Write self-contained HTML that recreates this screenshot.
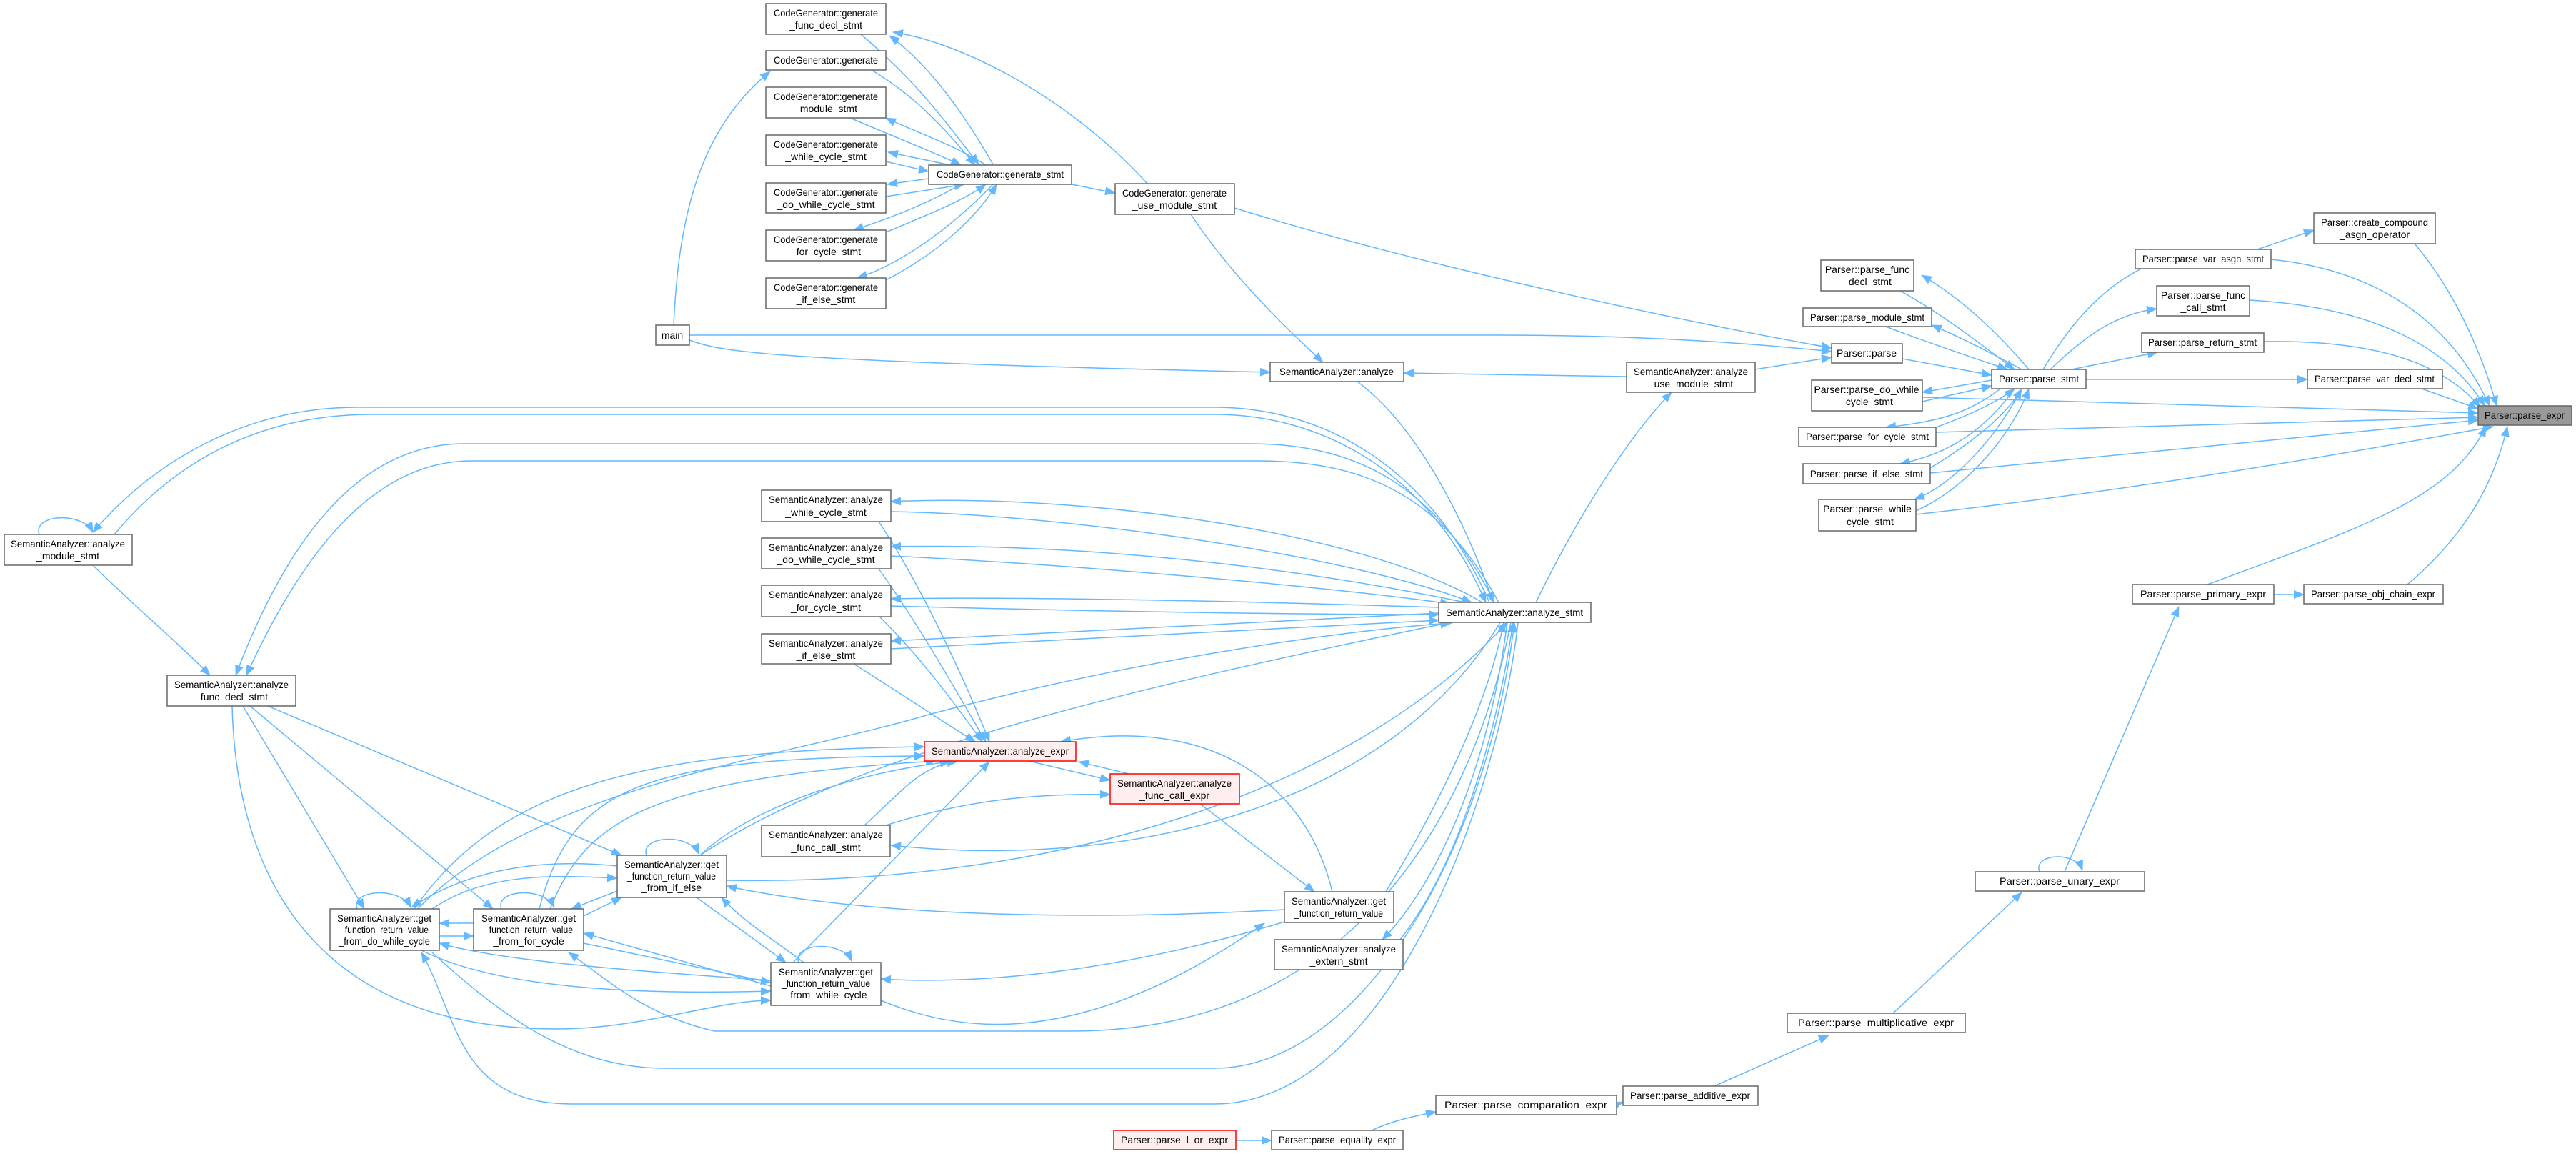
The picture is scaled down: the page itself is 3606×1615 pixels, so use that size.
<!DOCTYPE html>
<html><head><meta charset="utf-8"><style>
html,body{margin:0;padding:0;background:#fff}
svg{display:block}
text{font-family:"Liberation Sans",sans-serif;font-size:14px;fill:#000;text-anchor:middle}
.n{fill:#fff;stroke:#666;stroke-width:1.5}
.r{fill:#fee;stroke:#f00;stroke-width:1.5}
.g{fill:#999;stroke:#666;stroke-width:1.5}
path{fill:none;stroke:#63b8ff;stroke-width:1.5}
</style></head><body>
<svg width="3606" height="1615" viewBox="0 0 3606 1615" xmlns="http://www.w3.org/2000/svg">
<defs>
<marker id="a" markerUnits="userSpaceOnUse" markerWidth="16" markerHeight="12" refX="14" refY="6" orient="auto"><polygon points="0,0 15,6 0,12" fill="#63b8ff"/></marker>
</defs>
<g marker-end="url(#a)">
<path d="M1220 98 C1290 140 1330 190 1365 231"/>
<path d="M943 455 C950 300 980 180 1078 100"/>
<path d="M1205 48 C1290 120 1330 180 1370 230"/>
<path d="M1390 230 C1350 160 1300 90 1245 50"/>
<path d="M1606 257 C1500 140 1350 60 1250 45"/>
<path d="M1190 165 C1260 195 1300 210 1345 231"/>
<path d="M1380 231 C1330 200 1270 180 1240 165"/>
<path d="M1340 233 L1243 213"/>
<path d="M1240 226 L1300 240"/>
<path d="M1300 250 L1242 258"/>
<path d="M1240 275 L1350 258"/>
<path d="M1345 258 C1290 290 1230 310 1195 322"/>
<path d="M1240 325 C1300 300 1350 280 1380 258"/>
<path d="M1390 258 C1330 320 1260 370 1200 389"/>
<path d="M1240 392 C1320 350 1370 300 1395 258"/>
<path d="M1500 258 L1561 270"/>
<path d="M1667 300 C1720 380 1790 450 1852 507"/>
<path d="M1728 291 C1950 360 2300 440 2564 487"/>
<path d="M965 469 L2100 469 C2300 469 2450 480 2564 492"/>
<path d="M965 476 C1010 492 1060 505 1778 521"/>
<path d="M2277 527 L1965 522"/>
<path d="M2457 517 L2564 500"/>
<path d="M2663 502 L2788 525"/>
<path d="M2150 843 C2220 700 2290 600 2340 549"/>
<path d="M1900 534 C1990 600 2060 750 2090 843"/>
<path d="M2085 843 C2000 650 1850 570 1700 570 L500 570 C350 570 220 640 130 745"/>
<path d="M160 748 C250 640 370 580 520 580 L1700 580 C1850 580 2000 660 2080 843"/>
<path d="M2092 843 C2010 680 1900 621 1750 621 L650 621 C500 621 400 760 330 945"/>
<path d="M2098 843 C2020 700 1920 645 1760 645 L660 645 C520 645 420 780 345 945"/>
<path d="M130 791 C190 850 250 900 294 945"/>
<path d="M2075 843 C1900 740 1500 690 1247 702"/>
<path d="M1247 716 C1500 720 1900 780 2060 843"/>
<path d="M2060 845 C1800 790 1500 760 1247 765"/>
<path d="M1247 778 C1500 790 1850 820 2030 845"/>
<path d="M2014 850 C1700 840 1400 835 1247 838"/>
<path d="M1247 848 C1500 855 1800 860 2014 860"/>
<path d="M2014 858 L1247 897"/>
<path d="M1247 908 L2014 868"/>
<path d="M1230 730 C1290 820 1350 950 1385 1038"/>
<path d="M1230 796 C1290 880 1340 970 1380 1038"/>
<path d="M1228 860 C1290 920 1340 990 1375 1038"/>
<path d="M1195 929 C1260 970 1320 1010 1365 1038"/>
<path d="M2100 871 C1950 1120 1600 1220 1247 1183"/>
<path d="M980 1197 C1200 1050 1600 960 2030 871"/>
<path d="M1440 1065 L1554 1092"/>
<path d="M1580 1083 L1510 1066"/>
<path d="M1210 1155 C1260 1110 1290 1070 1340 1066"/>
<path d="M1240 1155 C1350 1120 1450 1110 1554 1112"/>
<path d="M1680 1125 L1840 1248"/>
<path d="M1865 1248 C1830 1100 1700 1000 1485 1038"/>
<path d="M1940 1248 C2000 1150 2080 1000 2105 871"/>
<path d="M1798 1273 C1500 1290 1200 1280 1017 1240"/>
<path d="M1798 1290 C1600 1350 1400 1380 1233 1370"/>
<path d="M2110 871 C2080 1100 2000 1250 1935 1315"/>
<path d="M1960 1315 C2050 1200 2100 1000 2118 871"/>
<path d="M1017 1232 C1500 1240 1900 1100 2110 871"/>
<path d="M605 1333 C700 1420 800 1495 930 1495 L1700 1495 C1900 1495 2080 1200 2120 871"/>
<path d="M2125 871 C2100 1100 1950 1545 1700 1545 L800 1545 C640 1545 640 1420 590 1333"/>
<path d="M2115 871 C2080 1050 1950 1443 1500 1443 L1000 1443 C900 1420 850 1370 796 1333"/>
<path d="M1233 1400 C1330 1440 1500 1480 1770 1292"/>
<path d="M375 988 L870 1197"/>
<path d="M350 988 L690 1272"/>
<path d="M340 988 L510 1272"/>
<path d="M325 988 C330 1200 420 1440 780 1440 C900 1440 1000 1400 1079 1400"/>
<path d="M663 1292 L615 1292"/>
<path d="M615 1310 L663 1310"/>
<path d="M864 1212 C750 1200 650 1220 576 1270"/>
<path d="M605 1272 C680 1220 780 1225 864 1229"/>
<path d="M864 1247 L800 1272"/>
<path d="M817 1282 L870 1256"/>
<path d="M975 1256 L1100 1347"/>
<path d="M1125 1347 C1090 1320 1040 1290 1010 1256"/>
<path d="M1079 1380 L817 1306"/>
<path d="M817 1320 L1079 1375"/>
<path d="M1079 1372 C900 1360 700 1345 615 1320"/>
<path d="M590 1330 C700 1385 900 1392 1079 1387"/>
<path d="M580 1272 C700 1100 900 1050 1294 1045"/>
<path d="M585 1272 C750 1100 1100 1060 1300 1000 C1600 920 1900 880 2032 872"/>
<path d="M755 1272 C800 1100 900 1060 1294 1058"/>
<path d="M770 1272 C820 1150 900 1090 1310 1065"/>
<path d="M980 1197 C1050 1130 1200 1080 1330 1066"/>
<path d="M1110 1347 L1385 1066"/>
<path d="M500 1272 C490 1245 560 1240 575 1270"/>
<path d="M702 1272 C692 1245 762 1240 776 1270"/>
<path d="M905 1197 C895 1170 965 1165 978 1195"/>
<path d="M1118 1347 C1108 1320 1178 1315 1192 1345"/>
<path d="M55 748 C45 720 115 715 130 745"/>
<path d="M2855 1220 C2845 1195 2905 1190 2915 1218"/>
<path d="M1730 1596 L1780 1596"/>
<path d="M1920 1582 C1950 1568 1980 1562 2010 1556"/>
<path d="M2263 1546 L2272 1542"/>
<path d="M2400 1520 L2560 1449"/>
<path d="M2650 1418 L2830 1249"/>
<path d="M2890 1220 L3050 849"/>
<path d="M3183 832 L3225 832"/>
<path d="M3090 818 C3300 740 3430 700 3480 597"/>
<path d="M3370 818 C3450 750 3490 680 3510 597"/>
<path d="M3380 341 C3430 400 3470 480 3495 568"/>
<path d="M3179 363 C3350 380 3440 470 3485 568"/>
<path d="M3149 420 C3330 430 3430 490 3478 568"/>
<path d="M3169 478 C3350 475 3430 520 3472 570"/>
<path d="M3390 544 L3469 572"/>
<path d="M2691 556 L3469 578"/>
<path d="M2710 605 L3469 584"/>
<path d="M2702 662 L3469 588"/>
<path d="M2682 720 C2950 690 3200 650 3490 597"/>
<path d="M3160 349 L3239 322"/>
<path d="M2860 517 C2900 450 2950 390 3030 362"/>
<path d="M2870 517 C2920 470 2960 440 3019 432"/>
<path d="M2900 517 L3020 493"/>
<path d="M2920 531 L3230 531"/>
<path d="M2660 407 C2720 440 2770 480 2820 517"/>
<path d="M2840 517 C2800 470 2750 420 2690 385"/>
<path d="M2640 457 C2700 480 2760 500 2810 517"/>
<path d="M2830 517 C2780 490 2740 470 2704 455"/>
<path d="M2788 532 L2691 549"/>
<path d="M2691 562 L2788 540"/>
<path d="M2800 544 C2760 575 2720 590 2640 598"/>
<path d="M2710 598 C2760 580 2800 560 2820 544"/>
<path d="M2820 544 C2780 600 2730 635 2660 649"/>
<path d="M2702 655 C2760 620 2810 580 2830 544"/>
<path d="M2830 544 C2790 620 2730 680 2680 699"/>
<path d="M2682 715 C2760 680 2820 600 2840 544"/>
</g>
<g>
<rect class="n" x="1072" y="5" width="168" height="43"/><text x="1156" y="23" textLength="146" lengthAdjust="spacingAndGlyphs">CodeGenerator::generate</text><text x="1156" y="40">_func_decl_stmt</text>
<rect class="n" x="1072" y="71" width="168" height="27"/><text x="1156" y="89" textLength="146" lengthAdjust="spacingAndGlyphs">CodeGenerator::generate</text>
<rect class="n" x="1072" y="122" width="168" height="43"/><text x="1156" y="140" textLength="146" lengthAdjust="spacingAndGlyphs">CodeGenerator::generate</text><text x="1156" y="157">_module_stmt</text>
<rect class="n" x="1072" y="189" width="168" height="43"/><text x="1156" y="207" textLength="146" lengthAdjust="spacingAndGlyphs">CodeGenerator::generate</text><text x="1156" y="224">_while_cycle_stmt</text>
<rect class="n" x="1072" y="256" width="168" height="42"/><text x="1156" y="274" textLength="146" lengthAdjust="spacingAndGlyphs">CodeGenerator::generate</text><text x="1156" y="291">_do_while_cycle_stmt</text>
<rect class="n" x="1072" y="322" width="168" height="43"/><text x="1156" y="340" textLength="146" lengthAdjust="spacingAndGlyphs">CodeGenerator::generate</text><text x="1156" y="357">_for_cycle_stmt</text>
<rect class="n" x="1072" y="389" width="168" height="43"/><text x="1156" y="407" textLength="146" lengthAdjust="spacingAndGlyphs">CodeGenerator::generate</text><text x="1156" y="424">_if_else_stmt</text>
<rect class="n" x="1300" y="231" width="200" height="27"/><text x="1400" y="249" textLength="178" lengthAdjust="spacingAndGlyphs">CodeGenerator::generate_stmt</text>
<rect class="n" x="1561" y="257" width="167" height="43"/><text x="1644" y="275" textLength="146" lengthAdjust="spacingAndGlyphs">CodeGenerator::generate</text><text x="1644" y="292">_use_module_stmt</text>
<rect class="n" x="918" y="455" width="47" height="28"/><text x="941" y="474">main</text>
<rect class="n" x="1778" y="507" width="187" height="27"/><text x="1871" y="525" textLength="160" lengthAdjust="spacingAndGlyphs">SemanticAnalyzer::analyze</text>
<rect class="n" x="2277" y="507" width="180" height="42"/><text x="2367" y="525" textLength="160" lengthAdjust="spacingAndGlyphs">SemanticAnalyzer::analyze</text><text x="2367" y="542">_use_module_stmt</text>
<rect class="n" x="2564" y="481" width="99" height="27"/><text x="2613" y="499">Parser::parse</text>
<rect class="n" x="2788" y="517" width="132" height="27"/><text x="2854" y="535" textLength="112" lengthAdjust="spacingAndGlyphs">Parser::parse_stmt</text>
<rect class="n" x="2549" y="364" width="130" height="43"/><text x="2614" y="382">Parser::parse_func</text><text x="2614" y="399">_decl_stmt</text>
<rect class="n" x="2524" y="431" width="180" height="26"/><text x="2614" y="449" textLength="160" lengthAdjust="spacingAndGlyphs">Parser::parse_module_stmt</text>
<rect class="n" x="2536" y="532" width="155" height="43"/><text x="2613" y="550">Parser::parse_do_while</text><text x="2613" y="567">_cycle_stmt</text>
<rect class="n" x="2518" y="598" width="192" height="27"/><text x="2614" y="616" textLength="172" lengthAdjust="spacingAndGlyphs">Parser::parse_for_cycle_stmt</text>
<rect class="n" x="2524" y="649" width="178" height="28"/><text x="2613" y="668" textLength="158" lengthAdjust="spacingAndGlyphs">Parser::parse_if_else_stmt</text>
<rect class="n" x="2546" y="699" width="136" height="44"/><text x="2614" y="717">Parser::parse_while</text><text x="2614" y="735">_cycle_stmt</text>
<rect class="n" x="2989" y="349" width="190" height="27"/><text x="3084" y="367" textLength="170" lengthAdjust="spacingAndGlyphs">Parser::parse_var_asgn_stmt</text>
<rect class="n" x="3239" y="298" width="170" height="43"/><text x="3324" y="316" textLength="150" lengthAdjust="spacingAndGlyphs">Parser::create_compound</text><text x="3324" y="333">_asgn_operator</text>
<rect class="n" x="3019" y="400" width="130" height="42"/><text x="3084" y="418">Parser::parse_func</text><text x="3084" y="435">_call_stmt</text>
<rect class="n" x="2998" y="466" width="171" height="27"/><text x="3083" y="484" textLength="152" lengthAdjust="spacingAndGlyphs">Parser::parse_return_stmt</text>
<rect class="n" x="3230" y="517" width="189" height="27"/><text x="3324" y="535" textLength="168" lengthAdjust="spacingAndGlyphs">Parser::parse_var_decl_stmt</text>
<rect class="g" x="3469" y="568" width="131" height="27"/><text x="3534" y="586" textLength="112" lengthAdjust="spacingAndGlyphs">Parser::parse_expr</text>
<rect class="n" x="2985" y="818" width="198" height="27"/><text x="3084" y="836" textLength="176" lengthAdjust="spacingAndGlyphs">Parser::parse_primary_expr</text>
<rect class="n" x="3225" y="818" width="195" height="27"/><text x="3322" y="836" textLength="174" lengthAdjust="spacingAndGlyphs">Parser::parse_obj_chain_expr</text>
<rect class="n" x="2765" y="1220" width="237" height="27"/><text x="2883" y="1238" textLength="168" lengthAdjust="spacingAndGlyphs">Parser::parse_unary_expr</text>
<rect class="n" x="2502" y="1418" width="249" height="27"/><text x="2626" y="1436" textLength="218" lengthAdjust="spacingAndGlyphs">Parser::parse_multiplicative_expr</text>
<rect class="n" x="2272" y="1520" width="189" height="27"/><text x="2366" y="1538" textLength="168" lengthAdjust="spacingAndGlyphs">Parser::parse_additive_expr</text>
<rect class="n" x="2010" y="1533" width="253" height="27"/><text x="2136" y="1551" textLength="228" lengthAdjust="spacingAndGlyphs">Parser::parse_comparation_expr</text>
<rect class="n" x="1780" y="1582" width="184" height="27"/><text x="1872" y="1600" textLength="164" lengthAdjust="spacingAndGlyphs">Parser::parse_equality_expr</text>
<rect class="r" x="1559" y="1582" width="171" height="27"/><text x="1644" y="1600" textLength="150" lengthAdjust="spacingAndGlyphs">Parser::parse_l_or_expr</text>
<rect class="n" x="2014" y="843" width="213" height="28"/><text x="2120" y="862" textLength="192" lengthAdjust="spacingAndGlyphs">SemanticAnalyzer::analyze_stmt</text>
<rect class="n" x="1066" y="686" width="181" height="44"/><text x="1156" y="704" textLength="160" lengthAdjust="spacingAndGlyphs">SemanticAnalyzer::analyze</text><text x="1156" y="722">_while_cycle_stmt</text>
<rect class="n" x="1066" y="753" width="181" height="43"/><text x="1156" y="771" textLength="160" lengthAdjust="spacingAndGlyphs">SemanticAnalyzer::analyze</text><text x="1156" y="788">_do_while_cycle_stmt</text>
<rect class="n" x="1066" y="819" width="181" height="44"/><text x="1156" y="837" textLength="160" lengthAdjust="spacingAndGlyphs">SemanticAnalyzer::analyze</text><text x="1156" y="855">_for_cycle_stmt</text>
<rect class="n" x="1066" y="887" width="181" height="42"/><text x="1156" y="905" textLength="160" lengthAdjust="spacingAndGlyphs">SemanticAnalyzer::analyze</text><text x="1156" y="922">_if_else_stmt</text>
<rect class="r" x="1294" y="1038" width="212" height="27"/><text x="1400" y="1056" textLength="192" lengthAdjust="spacingAndGlyphs">SemanticAnalyzer::analyze_expr</text>
<rect class="r" x="1554" y="1083" width="181" height="42"/><text x="1644" y="1101" textLength="160" lengthAdjust="spacingAndGlyphs">SemanticAnalyzer::analyze</text><text x="1644" y="1118">_func_call_expr</text>
<rect class="n" x="1066" y="1155" width="180" height="44"/><text x="1156" y="1173" textLength="160" lengthAdjust="spacingAndGlyphs">SemanticAnalyzer::analyze</text><text x="1156" y="1191">_func_call_stmt</text>
<rect class="n" x="864" y="1197" width="153" height="59"/><text x="940" y="1215" textLength="132" lengthAdjust="spacingAndGlyphs">SemanticAnalyzer::get</text><text x="940" y="1231" textLength="124" lengthAdjust="spacingAndGlyphs">_function_return_value</text><text x="940" y="1247">_from_if_else</text>
<rect class="n" x="1798" y="1248" width="153" height="43"/><text x="1874" y="1266" textLength="132" lengthAdjust="spacingAndGlyphs">SemanticAnalyzer::get</text><text x="1874" y="1283" textLength="124" lengthAdjust="spacingAndGlyphs">_function_return_value</text>
<rect class="n" x="1784" y="1315" width="180" height="42"/><text x="1874" y="1333" textLength="160" lengthAdjust="spacingAndGlyphs">SemanticAnalyzer::analyze</text><text x="1874" y="1350">_extern_stmt</text>
<rect class="n" x="663" y="1272" width="154" height="58"/><text x="740" y="1290" textLength="132" lengthAdjust="spacingAndGlyphs">SemanticAnalyzer::get</text><text x="740" y="1306" textLength="124" lengthAdjust="spacingAndGlyphs">_function_return_value</text><text x="740" y="1322">_from_for_cycle</text>
<rect class="n" x="462" y="1272" width="153" height="58"/><text x="538" y="1290" textLength="132" lengthAdjust="spacingAndGlyphs">SemanticAnalyzer::get</text><text x="538" y="1306" textLength="124" lengthAdjust="spacingAndGlyphs">_function_return_value</text><text x="538" y="1322" textLength="128" lengthAdjust="spacingAndGlyphs">_from_do_while_cycle</text>
<rect class="n" x="1079" y="1347" width="154" height="60"/><text x="1156" y="1365" textLength="132" lengthAdjust="spacingAndGlyphs">SemanticAnalyzer::get</text><text x="1156" y="1381" textLength="124" lengthAdjust="spacingAndGlyphs">_function_return_value</text><text x="1156" y="1397">_from_while_cycle</text>
<rect class="n" x="6" y="748" width="179" height="43"/><text x="95" y="766" textLength="160" lengthAdjust="spacingAndGlyphs">SemanticAnalyzer::analyze</text><text x="95" y="783">_module_stmt</text>
<rect class="n" x="234" y="945" width="180" height="43"/><text x="324" y="963" textLength="160" lengthAdjust="spacingAndGlyphs">SemanticAnalyzer::analyze</text><text x="324" y="980">_func_decl_stmt</text>
</g>
</svg>
</body></html>
